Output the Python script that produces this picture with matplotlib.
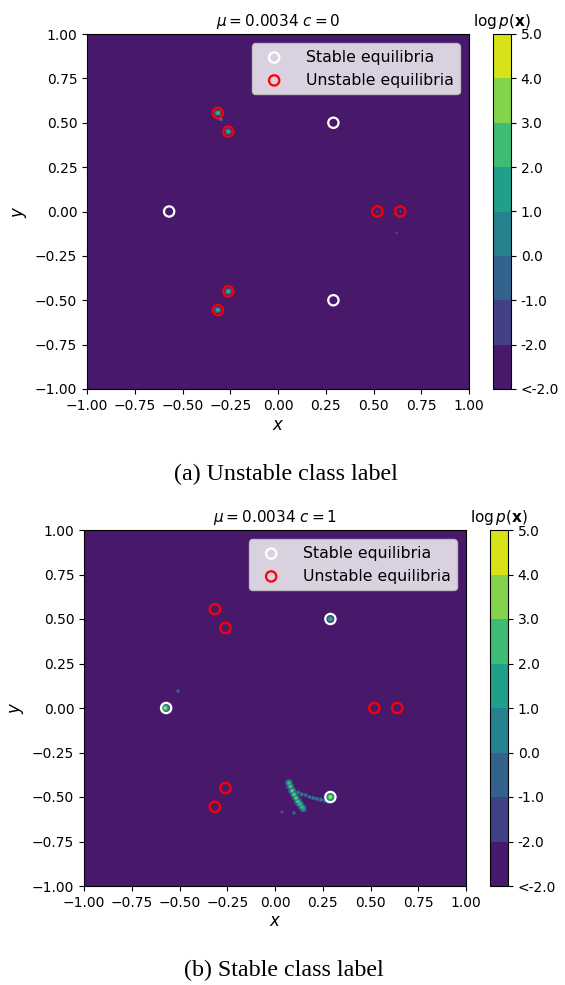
import numpy as np
import matplotlib.pyplot as plt

# equilibria
stable_x = [-0.57, 0.29, 0.29]
stable_y = [0.0, 0.5, -0.5]
unstable_x = [-0.315, -0.26, -0.26, -0.315, 0.52, 0.64]
unstable_y = [0.555, 0.45, -0.45, -0.555, 0.0, 0.0]

mu = 0.0034
background = -3.0
levels = [-3, -2, -1, 0, 1, 2, 3, 4, 5]
tick_labels = ["<-2.0", "-2.0", "-1.0", "0.0", "1.0", "2.0", "3.0", "4.0", "5.0"]

# density hot spots, panel (a): x, y, peak log p, radius
a_x = [-0.315, -0.30, -0.26, -0.26, -0.315, 0.52, 0.64, 0.62]
a_y = [0.555, 0.52, 0.45, -0.45, -0.555, 0.0, 0.0, -0.12]
a_peak = [3.0, 1.0, 2.5, 3.0, 2.5, -1.5, -1.5, -1.0]
a_rad = [0.02, 0.012, 0.02, 0.02, 0.02, 0.01, 0.01, 0.01]

# panel (b)
b_x = [-0.575, 0.29, 0.29, -0.508,
       0.073, 0.08, 0.09, 0.10, 0.11, 0.12, 0.13, 0.14, 0.147,
       0.12, 0.14, 0.16, 0.18, 0.20, 0.22, 0.24, 0.26, 0.275,
       0.037, 0.10]
b_y = [0.0, 0.5, -0.5, 0.096,
       -0.42, -0.44, -0.465, -0.485, -0.505, -0.525, -0.54, -0.555, -0.565,
       -0.475, -0.485, -0.49, -0.50, -0.505, -0.51, -0.515, -0.52, -0.525,
       -0.584, -0.59]
b_peak = [4.5, 2.5, 5.0, 0.0,
          3.0, 3.5, 3.5, 3.5, 3.5, 3.5, 3.0, 3.0, 2.5,
          1.0, 1.0, 0.5, 0.5, 1.0, 0.5, 1.0, 0.5, 1.0,
          -0.5, -0.5]
b_rad = [0.028, 0.022, 0.028, 0.012,
         0.022, 0.022, 0.022, 0.022, 0.022, 0.022, 0.022, 0.022, 0.022,
         0.013, 0.013, 0.013, 0.013, 0.013, 0.013, 0.013, 0.013, 0.013,
         0.012, 0.012]


def density_field(xs, ys, peaks, rads, n=401):
    g = np.linspace(-1, 1, n)
    X, Y = np.meshgrid(g, g)
    Z = np.full(X.shape, background)
    for x0, y0, p, r in zip(xs, ys, peaks, rads):
        d = np.hypot(X - x0, Y - y0) / r
        spot = background + (p - background) * np.clip(1 - d, 0, 1)
        Z = np.maximum(Z, spot)
    return X, Y, Z


def draw_panel(fig, ax_rect, cb_rect, xs, ys, peaks, rads, c):
    ax = fig.add_axes(ax_rect)
    cax = fig.add_axes(cb_rect)
    X, Y, Z = density_field(xs, ys, peaks, rads)
    cs = ax.contourf(X, Y, Z, levels=levels, cmap="viridis")
    ax.scatter(stable_x, stable_y, s=55, facecolors="none", edgecolors="white",
               linewidths=1.6, label="Stable equilibria", zorder=3)
    ax.scatter(unstable_x, unstable_y, s=55, facecolors="none", edgecolors="red",
               linewidths=1.6, label="Unstable equilibria", zorder=3)
    ax.set_xlim(-1, 1)
    ax.set_ylim(-1, 1)
    ax.set_xticks(np.arange(-1, 1.01, 0.25))
    ax.set_yticks(np.arange(-1, 1.01, 0.25))
    ax.set_xlabel("$x$", fontsize=12, labelpad=2)
    ax.set_ylabel("$y$", fontsize=12)
    ax.set_title(rf"$\mu = {mu}$ $c = {c}$", fontsize=11)
    ax.legend(loc="upper right", fontsize=11.3, borderaxespad=0.6,
              handletextpad=1.0)

    cb = fig.colorbar(cs, cax=cax)
    cb.set_ticks(levels)
    cb.set_ticklabels(tick_labels)
    cax.set_title(r"$\log p(\mathbf{x})$", fontsize=11, pad=6)
    return ax


fig = plt.figure(figsize=(5.65, 9.85), dpi=100)

draw_panel(fig, [87 / 565, 1 - 389 / 985, 382 / 565, 355 / 985],
           [493 / 565, 1 - 389 / 985, 18 / 565, 355 / 985],
           a_x, a_y, a_peak, a_rad, 0)
fig.text(286 / 565, 1 - 474 / 985, "(a) Unstable class label",
         family="Liberation Serif", fontsize=17.3, ha="center", va="center")

draw_panel(fig, [84 / 565, 1 - 886 / 985, 382 / 565, 356 / 985],
           [490 / 565, 1 - 886 / 985, 18 / 565, 356 / 985],
           b_x, b_y, b_peak, b_rad, 1)
fig.text(284 / 565, 1 - 970 / 985, "(b) Stable class label",
         family="Liberation Serif", fontsize=17.3, ha="center", va="center")

fig.savefig("out.png", dpi=100)
